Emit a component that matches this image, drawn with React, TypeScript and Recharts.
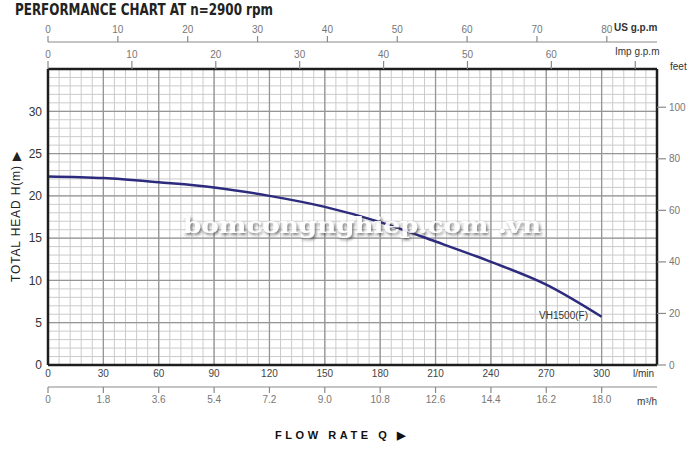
import React from 'react';
import { LineChart, Line, XAxis, YAxis, CartesianGrid } from 'recharts';

// ---- data ----
const flowLpm = [0, 30, 60, 90, 120, 150, 180, 210, 240, 270, 300];
const headM = [22.3, 22.1, 21.6, 21.0, 20.0, 18.7, 16.9, 14.6, 12.2, 9.5, 5.7];
const seriesName = 'VH1500(F)';

const lpmTicks = [0, 30, 60, 90, 120, 150, 180, 210, 240, 270, 300];
const m3hLabels = ['0', '1.8', '3.6', '5.4', '7.2', '9.0', '10.8', '12.6', '14.4', '16.2', '18.0'];
const usGpmTicks = [0, 10, 20, 30, 40, 50, 60, 70, 80];
const impGpmTicks = [0, 10, 20, 30, 40, 50, 60, 70];
const impGpmLabels = ['0', '10', '20', '30', '40', '50', '60', '']; // last tick sits under the unit label
const headTicks = [0, 5, 10, 15, 20, 25, 30];
const feetTicks = [0, 20, 40, 60, 80, 100];

const US_GPM = 3.785; // l/min per US gpm
const IMP_GPM = 4.546; // l/min per Imp gpm
const FOOT = 0.3048; // m per foot

const Q_MAX = 330;
const H_MAX = 35;

const data = flowLpm.map((q, i) => ({ q, h: headM[i] }));

const range = (step: number, max: number) => {
  const out: number[] = [];
  for (let v = 0; v <= max + 1e-9; v += step) out.push(Math.round(v * 1000) / 1000);
  return out;
};
const minorV = range(6, Q_MAX);
const minorH = range(1, H_MAX);
const majorV = range(30, Q_MAX);
const majorH = range(5, H_MAX);

const FRAME = '#1e1e1e';
const GRAY = '#8a8a8a';

export default function App() {
  const impPositions = impGpmTicks.map((g) => g * IMP_GPM);
  return (
    <div style={{ position: 'absolute', left: 0, top: 0, width: 700, height: 450, background: '#fff' }}>
      <LineChart width={700} height={450} data={data} margin={{ top: 20, right: 0, bottom: 33, left: 0 }}>
        <CartesianGrid xAxisId="a_lpm" yAxisId="a_h" stroke="#cbcbcb" strokeWidth={1}
          verticalValues={minorV} horizontalValues={minorH} />
        <CartesianGrid xAxisId="a_lpm" yAxisId="a_h" stroke="#969696" strokeWidth={1.3}
          verticalValues={majorV} horizontalValues={majorH} />
        {/* bottom: l/min (nearest to plot) */}
        <XAxis xAxisId="a_lpm" dataKey="q" type="number" orientation="bottom" domain={[0, Q_MAX]}
          allowDataOverflow ticks={lpmTicks} height={22} tickLine={false} tickSize={0} tickMargin={5}
          axisLine={{ stroke: FRAME, strokeWidth: 2.5 }}
          tick={{ fontSize: 10, fill: '#444', fontFamily: 'Liberation Sans' }} interval={0} />
        {/* bottom: m3/h */}
        <XAxis xAxisId="b_m3" dataKey="q" type="number" orientation="bottom" domain={[0, Q_MAX]} allowDataOverflow
          ticks={lpmTicks} height={30} tickSize={6} tickMargin={3}
          tickFormatter={(v: number) => m3hLabels[lpmTicks.indexOf(v)] ?? ''}
          axisLine={{ stroke: GRAY, strokeWidth: 1.2 }} tickLine={{ stroke: GRAY, strokeWidth: 1.2 }}
          tick={{ fontSize: 10, fill: '#777', fontFamily: 'Liberation Sans' }} interval={0} />
        {/* top: Imp gpm (nearest to plot) */}
        <XAxis xAxisId="a_imp" dataKey="q" type="number" orientation="top" domain={[0, Q_MAX]} allowDataOverflow
          ticks={impPositions} height={27} tickSize={8} tickMargin={3}
          tickFormatter={(v: number) => impGpmLabels[impPositions.indexOf(v)] ?? ''}
          axisLine={{ stroke: FRAME, strokeWidth: 2.5 }} tickLine={{ stroke: GRAY, strokeWidth: 1.2 }}
          tick={{ fontSize: 10, fill: '#777', fontFamily: 'Liberation Sans' }} interval={0} />
        {/* top: US gpm */}
        <XAxis xAxisId="b_us" dataKey="q" type="number" orientation="top" domain={[0, Q_MAX]} allowDataOverflow
          ticks={usGpmTicks.map((g) => g * US_GPM)} height={22} tickSize={6} tickMargin={3}
          tickFormatter={(v: number) => String(Math.round(v / US_GPM))}
          axisLine={{ stroke: GRAY, strokeWidth: 1.2 }} tickLine={{ stroke: GRAY, strokeWidth: 1.2 }}
          tick={{ fontSize: 10, fill: '#777', fontFamily: 'Liberation Sans' }} interval={0} />
        {/* left: head m */}
        <YAxis yAxisId="a_h" dataKey="h" type="number" domain={[0, H_MAX]} allowDataOverflow ticks={headTicks}
          width={48} tickLine={false} tickSize={0} tickMargin={6}
          axisLine={{ stroke: FRAME, strokeWidth: 2.5 }}
          tick={{ fontSize: 12, fill: '#333', fontFamily: 'Liberation Sans' }} interval={0} />
        {/* right: feet */}
        <YAxis yAxisId="b_ft" dataKey="h" orientation="right" type="number" domain={[0, H_MAX]} allowDataOverflow
          ticks={feetTicks.map((f) => f * FOOT)} width={43} tickSize={9} tickMargin={3}
          tickFormatter={(v: number) => String(Math.round(v / FOOT))}
          axisLine={{ stroke: FRAME, strokeWidth: 2.5 }} tickLine={{ stroke: GRAY, strokeWidth: 1.2 }}
          tick={{ fontSize: 10, fill: '#777', fontFamily: 'Liberation Sans' }} interval={0} />
        <Line xAxisId="a_lpm" yAxisId="a_h" dataKey="h" name={seriesName} type="monotone" stroke="#2d2b7e"
          strokeWidth={2.5} dot={false} isAnimationActive={false} />
      </LineChart>
      <svg width={700} height={450} style={{ position: 'absolute', left: 0, top: 0, pointerEvents: 'none' }}>
        <defs>
          <filter id="wmShadow" x="-5%" y="-30%" width="110%" height="160%">
            <feDropShadow dx="1.5" dy="2" stdDeviation="1.6" floodColor="#444" floodOpacity="0.8" />
          </filter>
        </defs>
        <text x={15} y={14.5} fontFamily="DejaVu Sans Condensed" fontWeight="bold" fontSize={15}
          fill="#222" textLength={258} lengthAdjust="spacingAndGlyphs">PERFORMANCE CHART AT n=2900 rpm</text>
        <text x={614} y={31} fontFamily="Liberation Sans" fontWeight="bold" fontSize={10} fill="#333">US g.p.m</text>
        <text x={615} y={55} fontFamily="Liberation Sans" fontSize={10} fill="#333">Imp g.p.m</text>
        <text x={670} y={70} fontFamily="Liberation Sans" fontSize={10} fill="#333">feet</text>
        <text x={633} y={377} fontFamily="Liberation Sans" fontSize={10} fill="#333">l/min</text>
        <text x={637} y={405} fontFamily="Liberation Sans" fontSize={10} fill="#333">m³/h</text>
        <text transform="translate(20,152) rotate(-90)" textAnchor="end" fontFamily="Liberation Sans"
          fontSize={12} fill="#222" textLength={130} lengthAdjust="spacing">TOTAL HEAD H(m) ▶</text>
        <text x={275} y={439} fontFamily="Liberation Sans" fontWeight="bold" fontSize={11} fill="#111"
          textLength={130} lengthAdjust="spacing">FLOW  RATE Q ▶</text>
        <text x={588} y={319} textAnchor="end" fontFamily="Liberation Sans" fontSize={10} fill="#333">{seriesName}</text>
        <text x={183} y={233} fontFamily="DejaVu Serif" fontWeight="bold" fontSize={22} fill="#fff"
          filter="url(#wmShadow)" textLength={358} lengthAdjust="spacingAndGlyphs" opacity={0.92}>bomcongnghiep.com .vn</text>
      </svg>
    </div>
  );
}
